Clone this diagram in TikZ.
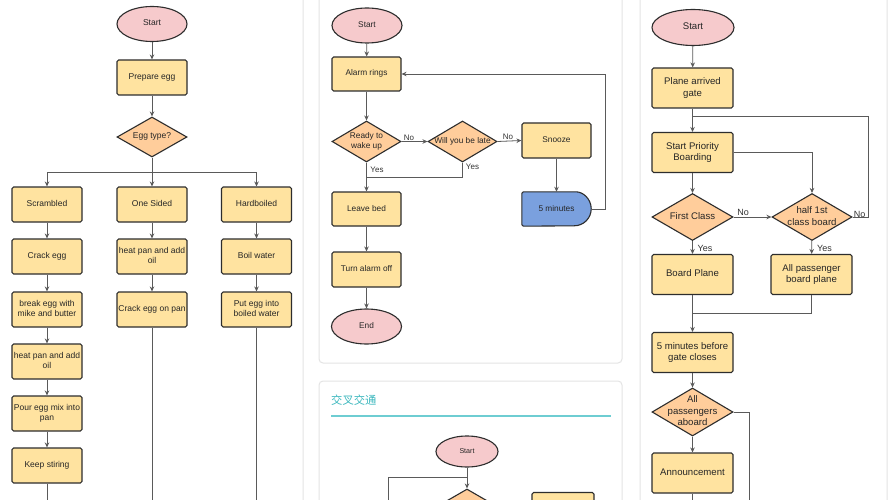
\documentclass[tikz,border=0pt]{standalone}
\usepackage{fontspec}
\setmainfont{Liberation Sans}
\newfontfamily\cjk{Noto Sans CJK SC}
\usetikzlibrary{shapes.geometric,arrows.meta,backgrounds}
\definecolor{boxfill}{RGB}{255,227,160}
\definecolor{diafill}{RGB}{255,205,155}
\definecolor{ellfill}{RGB}{246,202,204}
\definecolor{bluefill}{RGB}{122,160,222}
\definecolor{edgecol}{RGB}{45,45,45}
\definecolor{conncol}{RGB}{90,90,90}
\definecolor{panelcol}{RGB}{228,228,228}
\definecolor{titlecol}{RGB}{60,184,190}
\definecolor{rulecol}{RGB}{110,205,210}
\newcommand{\ztxt}[1]{\makebox[0pt][c]{\begin{tabular}{@{}c@{}}#1\end{tabular}}}
\tikzset{
  base/.style={draw=edgecol, line width=1.1pt, inner sep=0pt, text=black!85, font=\fontsize{8.5}{10}\selectfont},
  box/.style={base, rectangle, rounded corners=1.6pt, fill=boxfill, minimum width=70pt, minimum height=35pt},
  dia/.style={base, diamond, fill=diafill, minimum width=70pt, minimum height=40pt},
  ell/.style={base, ellipse, fill=ellfill, minimum width=70pt, minimum height=35pt},
  mfont/.style={font=\fontsize{8.3}{10}\selectfont},
  rfont/.style={font=\fontsize{9.6}{11.5}\selectfont},
  rbox/.style={box, rfont, minimum width=81pt, minimum height=40pt},
  rdia/.style={dia, rfont, minimum width=81pt, minimum height=47pt},
  cn/.style={draw=conncol, line width=0.8pt},
  arr/.style={-{Stealth[length=5pt,width=4.5pt]}},
  lab/.style={font=\fontsize{8}{9}\selectfont, text=black!80, inner sep=0pt},
  rlab/.style={font=\fontsize{9}{10}\selectfont, text=black!80, inner sep=0pt},
  panelsty/.style={draw=panelcol, line width=1pt, rounded corners=4pt},
}
\begin{document}
\begin{tikzpicture}[x=1pt,y=-1pt]
\useasboundingbox (0,0) rectangle (896,500);
\clip (0,0) rectangle (896,500);
\begin{scope}[on background layer]
  \fill[white] (0,0) rectangle (896,500);
  \draw[panelsty] (-10,-10) rectangle (303,510);
  \draw[panelsty] (319,-10) rectangle (622,363);
  \draw[panelsty] (319,381) rectangle (622,510);
  \draw[panelsty] (640,-10) rectangle (887,510);
\end{scope}

% ---------------- left panel ----------------
\node[ell] (s1) at (152,24) {\ztxt{Start}};
\node[box] (p1) at (152,77.5) {\ztxt{Prepare egg}};
\node[dia] (d1) at (152,137) {\ztxt{Egg type?}};
\node[box] (sc) at (47,204.5) {\ztxt{Scrambled}};
\node[box] (os) at (152,204.5) {\ztxt{One Sided}};
\node[box] (hb) at (256.5,204.5) {\ztxt{Hardboiled}};
\node[box] (a2) at (47,256.5) {\ztxt{Crack egg}};
\node[box] (b2) at (152,256.5) {\ztxt{heat pan and add\\oil}};
\node[box] (c2) at (256.5,256.5) {\ztxt{Boil water}};
\node[box] (a3) at (47,309.5) {\ztxt{break egg with\\mike and butter}};
\node[box] (b3) at (152,309.5) {\ztxt{Crack egg on pan}};
\node[box] (c3) at (256.5,309.5) {\ztxt{Put egg into\\boiled water}};
\node[box] (a4) at (47,361.5) {\ztxt{heat pan and add\\oil}};
\node[box] (a5) at (47,413.5) {\ztxt{Pour egg mix into\\pan}};
\node[box] (a6) at (47,465.5) {\ztxt{Keep stiring}};
\coordinate (lj) at (152,172);
\coordinate (le1) at (47,505);
\coordinate (le2) at (152,505);
\coordinate (le3) at (256.5,505);

\draw[cn,arr] (s1) -- (p1);
\draw[cn,arr] (p1) -- (d1);
\draw[cn,arr] (d1.south) -- (os.north);
\draw[cn,arr] (lj) -| (sc.north);
\draw[cn,arr] (lj) -| (hb.north);
\draw[cn,arr] (sc) -- (a2);
\draw[cn,arr] (a2) -- (a3);
\draw[cn,arr] (a3) -- (a4);
\draw[cn,arr] (a4) -- (a5);
\draw[cn,arr] (a5) -- (a6);
\draw[cn] (a6.south) -- (le1);
\draw[cn,arr] (os) -- (b2);
\draw[cn,arr] (b2) -- (b3);
\draw[cn] (b3.south) -- (le2);
\draw[cn,arr] (hb) -- (c2);
\draw[cn,arr] (c2) -- (c3);
\draw[cn] (c3.south) -- (le3);

% ---------------- middle panel ----------------
\node[ell,mfont] (m0) at (367,25.5) {\ztxt{Start}};
\node[box,mfont,minimum width=69pt,minimum height=34pt] (m1) at (366.5,74) {\ztxt{Alarm rings}};
\node[dia,mfont,minimum width=69pt,minimum height=41pt] (m2) at (366.5,141.5) {\ztxt{Ready to\\wake up}};
\node[dia,mfont,minimum width=69pt,minimum height=41pt] (m3) at (462.5,141.5) {\ztxt{Will you be late}};
\node[box,mfont,minimum width=69pt,minimum height=35pt] (m4) at (556.5,140.5) {\ztxt{Snooze}};
\node[mfont,inner sep=0pt,minimum width=69pt,minimum height=34pt,text=black!85] (m5) at (556.5,209) {\ztxt{5 minutes}};
\begin{scope}[on background layer]
  \draw[draw=edgecol,line width=1.1pt,fill=bluefill,rounded corners=1.6pt]
    (m5.south west) -- (m5.north west) -- ([xshift=-17pt]m5.north east)
    {[sharp corners] arc[start angle=90,end angle=-90,radius=17pt]} -- cycle;
\end{scope}
\node[box,mfont,minimum width=69pt,minimum height=34pt] (m6) at (366.5,209) {\ztxt{Leave bed}};
\node[box,mfont,minimum width=69pt,minimum height=35pt] (m7) at (366.5,269.5) {\ztxt{Turn alarm off}};
\node[ell,mfont] (m8) at (366.5,326.5) {\ztxt{End}};
\coordinate (mj) at (366.5,177);
\coordinate (ml) at (605,74);

\draw[cn,arr] (m0) -- (m1);
\draw[cn,arr] (m1) -- (m2);
\draw[cn,arr] (m2.east) -- (m3.west);
\draw[cn,arr] (m3.east) -- (m4.west);
\draw[cn,arr] (m2.south) -- (m6.north);
\draw[cn] (m3.south) |- (mj);
\draw[cn,arr] (m4) -- (m5);
\draw[cn,arr] (m5.east) -| (ml) -- (m1.east);
\draw[cn,arr] (m6) -- (m7);
\draw[cn,arr] (m7) -- (m8);
\node[lab] (ln1) at (409,137.5) {No};
\node[lab] (ln2) at (508,137) {No};
\node[lab] (ly1) at (377,169.5) {Yes};
\node[lab] (ly2) at (472.5,167) {Yes};

% ---------------- middle bottom panel ----------------
\node[anchor=west,inner sep=0pt,font=\cjk\fontsize{11.3}{13}\selectfont,text=titlecol] (tt) at (331,400) {交叉交通};
\draw[draw=rulecol,line width=1.4pt] (331,416) -- (611,416);
\node[ell,font=\fontsize{7.1}{8.5}\selectfont,minimum width=62pt,minimum height=31pt] (n0) at (467,451.5) {\ztxt{Start}};
\node[dia,minimum width=69pt,minimum height=40pt] (n1) at (467,509) {};
\node[box,minimum width=62pt,minimum height=35pt] (n2) at (563,510) {};
\coordinate (nj) at (388,477);
\coordinate (ne) at (388,505);
\draw[cn,arr] (n0) -- (n1);
\draw[cn] (n0.south |- nj) -- (nj) -- (ne);

% ---------------- right panel ----------------
\node[ell,rfont,minimum width=82pt,minimum height=36pt] (r0) at (693,27.5) {\ztxt{Start}};
\node[rbox] (r1) at (692.5,88) {\ztxt{Plane arrived\\gate}};
\node[rbox] (r2) at (692.5,152.5) {\ztxt{Start Priority\\Boarding}};
\node[rdia] (r3) at (692.5,217) {\ztxt{First Class}};
\node[rdia,minimum width=80pt] (r4) at (812,217) {\ztxt{half 1st\\class board}};
\node[rbox] (r5) at (692.5,274.5) {\ztxt{Board Plane}};
\node[rbox] (r6) at (811.5,274.5) {\ztxt{All passenger\\board plane}};
\node[rbox] (r7) at (692.5,352.5) {\ztxt{5 minutes before\\gate closes}};
\node[rdia,minimum height=48pt] (r8) at (692.5,412) {\ztxt{All\\passengers\\aboard}};
\node[rbox] (r9) at (692.5,473) {\ztxt{Announcement}};
\coordinate (rl) at (868,116);
\coordinate (rj) at (692.5,313);
\coordinate (rk) at (749,412);
\coordinate (re1) at (749,505);
\coordinate (re2) at (692.5,505);

\draw[cn,arr] (r0) -- (r1);
\draw[cn,arr] (r1) -- (r2);
\draw[cn] (r4.east) -| (rl) -- (r1.south |- rl);
\draw[cn,arr] (r2.east) -| (r4.north);
\draw[cn,arr] (r2) -- (r3);
\draw[cn,arr] (r3.east) -- (r4.west);
\draw[cn,arr] (r3) -- (r5);
\draw[cn,arr] (r4) -- (r6);
\draw[cn,arr] (r5) -- (r7);
\draw[cn] (r6.south) |- (rj);
\draw[cn,arr] (r7) -- (r8);
\draw[cn,arr] (r8) -- (r9);
\draw[cn] (r8.east) -- (rk) -- (re1);
\draw[cn] (r9.south) -- (re2);
\node[rlab] (rn1) at (743,212) {No};
\node[rlab] (rn2) at (859.5,214) {No};
\node[rlab] (ry1) at (705,248) {Yes};
\node[rlab] (ry2) at (824.5,248) {Yes};
\end{tikzpicture}
\end{document}
